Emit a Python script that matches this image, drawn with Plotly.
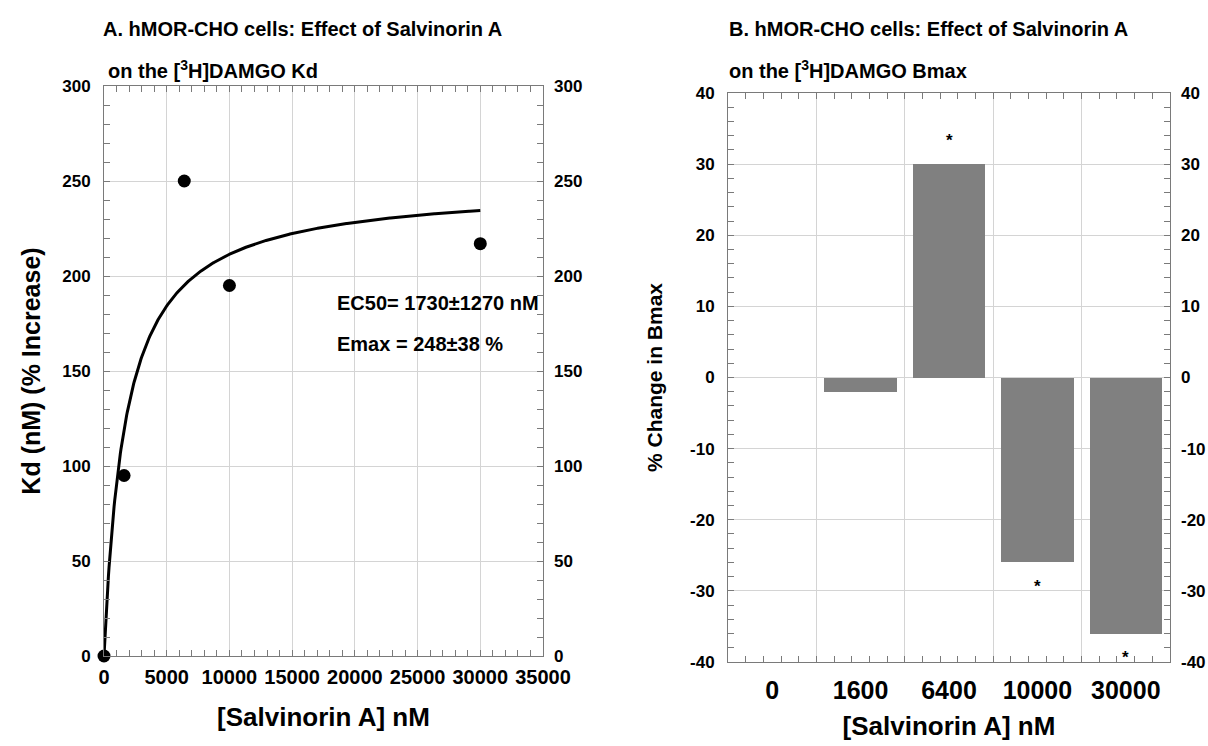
import numpy as np
import plotly.graph_objects as go

W, H = 1208, 746

# ---------------- data ----------------
# Panel A: Kd (% increase) vs [Salvinorin A]
conc_a = [0, 1600, 6400, 10000, 30000]
kd_increase = [0, 95, 250, 195, 217]
ec50 = 1730      # nM (fitted)
ec50_err = 1270
emax = 248       # % (fitted)
emax_err = 38
fit_x = np.linspace(0, 30000, 600)
fit_y = emax * fit_x / (ec50 + fit_x)   # fitted hyperbola drawn in the figure

# Panel B: % change in Bmax
conc_b_labels = ["0", "1600", "6400", "10000", "30000"]
bmax_change = [0, -2, 30, -26, -36]
significant = [False, False, True, True, True]
b_ytick_vals = [-40, -30, -20, -10, 0, 10, 20, 30, 40]
b_ytick_text = ["-40", "-30", "-20", "-10", "0", "10", "20", "30", "40"]

# ---------------- style ----------------
FONT = "Liberation Sans, Arial, Helvetica, sans-serif"
GRID = "#d4d4d4"
LINE = "#7a7a7a"
BAR = "#808080"


def dx(p):
    return p / W


def dy(p):
    return 1 - p / H


A_X = [dx(104), dx(543)]
A_Y = [dy(656), dy(86)]
B_X = [dx(728), dx(1170)]
B_Y = [dy(662), dy(93)]

fig = go.Figure()

# Panel A traces
fig.add_trace(go.Scatter(x=fit_x, y=fit_y, mode="lines",
                         line=dict(color="black", width=3),
                         xaxis="x", yaxis="y", showlegend=False, hoverinfo="skip"))
fig.add_trace(go.Scatter(x=conc_a, y=kd_increase, mode="markers",
                         marker=dict(color="black", size=13),
                         xaxis="x", yaxis="y", showlegend=False, cliponaxis=False))

# Panel B traces
idx = list(range(len(conc_b_labels)))
fig.add_trace(go.Bar(x=idx, y=bmax_change, marker=dict(color=BAR, line=dict(width=0)),
                     width=0.82, xaxis="x2", yaxis="y2", showlegend=False))
# helper traces so overlay axes exist
fig.add_trace(go.Scatter(x=[None], y=[None], xaxis="x3", yaxis="y2", showlegend=False))
fig.add_trace(go.Scatter(x=[None], y=[None], xaxis="x", yaxis="y3", showlegend=False))
fig.add_trace(go.Scatter(x=[None], y=[None], xaxis="x2", yaxis="y4", showlegend=False))

tickfont_y = dict(family=FONT, size=17, color="black", weight="bold")


def minor(dtick, tick0=0):
    return dict(dtick=dtick, tick0=tick0, ticks="inside", ticklen=6,
                tickcolor=LINE, tickwidth=1, showgrid=False)


fig.update_layout(
    width=W, height=H,
    margin=dict(l=0, r=0, t=0, b=0, autoexpand=False),
    paper_bgcolor="white", plot_bgcolor="white",
    font=dict(family=FONT, color="black"),
    bargap=0,
    # ---- Panel A axes ----
    xaxis=dict(domain=A_X, anchor="y", range=[0, 35000], dtick=5000, tick0=0,
               tickformat="d", automargin=False,
               showgrid=True, gridcolor=GRID, gridwidth=1, zeroline=False,
               showline=True, linecolor=LINE, linewidth=1, mirror="ticks",
               ticks="inside", ticklen=6, tickcolor=LINE,
               minor=minor(1000),
               tickfont=dict(family=FONT, size=20, color="black", weight="bold"),
               ticklabelstandoff=3,
               title=dict(text="[Salvinorin A] nM", standoff=20,
                          font=dict(family=FONT, size=26, color="black", weight="bold"))),
    yaxis=dict(domain=A_Y, anchor="x", range=[0, 300], dtick=50, tick0=0,
               automargin=False,
               showgrid=True, gridcolor=GRID, gridwidth=1, zeroline=False,
               showline=True, linecolor=LINE, linewidth=1, mirror="ticks",
               ticks="inside", ticklen=6, tickcolor=LINE,
               minor=minor(10),
               tickfont=tickfont_y, ticklabelstandoff=9,
               title=dict(text="Kd (nM) (% Increase)", standoff=14,
                          font=dict(family=FONT, size=25, color="black", weight="bold"))),
    yaxis3=dict(overlaying="y", side="right", anchor="x", range=[0, 300], dtick=50, tick0=0,
                automargin=False,
                showgrid=False, zeroline=False, showline=False,
                ticks="inside", ticklen=6, tickcolor=LINE,
                minor=minor(10),
                tickfont=tickfont_y, ticklabelstandoff=10),
    # ---- Panel B axes ----
    xaxis2=dict(domain=B_X, anchor="y2", range=[-0.5, 4.5], automargin=False,
                tickvals=idx, ticktext=conc_b_labels,
                showgrid=False, zeroline=False, showline=False, ticks="",
                tickfont=dict(family=FONT, size=25, color="black", weight="bold"),
                ticklabelstandoff=11,
                title=dict(text="[Salvinorin A] nM", standoff=13,
                           font=dict(family=FONT, size=26, color="black", weight="bold"))),
    xaxis3=dict(overlaying="x2", anchor="y2", range=[-0.5, 4.5], tick0=0.5, dtick=1,
                automargin=False,
                showgrid=True, gridcolor=GRID, gridwidth=1, zeroline=False,
                showline=True, linecolor=LINE, linewidth=1, mirror="ticks",
                showticklabels=False, ticks="inside", ticklen=6, tickcolor=LINE,
                minor=minor(0.2, 0.5)),
    yaxis2=dict(domain=B_Y, anchor="x2", range=[-40, 40], automargin=False,
                tickvals=b_ytick_vals, ticktext=b_ytick_text,
                showgrid=True, gridcolor=GRID, gridwidth=1, zeroline=True,
                zerolinecolor=GRID, zerolinewidth=1,
                showline=True, linecolor=LINE, linewidth=1, mirror="ticks",
                ticks="inside", ticklen=6, tickcolor=LINE,
                minor=minor(2),
                tickfont=tickfont_y, ticklabelstandoff=9,
                title=dict(text="% Change in Bmax", standoff=21,
                           font=dict(family=FONT, size=21, color="black", weight="bold"))),
    yaxis4=dict(overlaying="y2", side="right", anchor="x2", range=[-40, 40],
                automargin=False,
                tickvals=b_ytick_vals, ticktext=b_ytick_text,
                showgrid=False, zeroline=False, showline=False,
                ticks="inside", ticklen=6, tickcolor=LINE,
                minor=minor(2),
                tickfont=tickfont_y, ticklabelstandoff=10),
)

ann = []
title_font = dict(family=FONT, size=20, color="black", weight="bold")
ann.append(dict(text="A. hMOR-CHO cells: Effect of Salvinorin A", x=dx(101), y=dy(29),
                xref="paper", yref="paper", xanchor="left", yanchor="middle",
                showarrow=False, font=title_font))
ann.append(dict(text="on the [<sup>3</sup>H]DAMGO Kd", x=dx(106), y=dy(84),
                xref="paper", yref="paper", xanchor="left", yanchor="bottom",
                showarrow=False, font=title_font))
ann.append(dict(text="B. hMOR-CHO cells: Effect of Salvinorin A", x=dx(727), y=dy(29),
                xref="paper", yref="paper", xanchor="left", yanchor="middle",
                showarrow=False, font=title_font))
ann.append(dict(text="on the [<sup>3</sup>H]DAMGO Bmax", x=dx(727), y=dy(84),
                xref="paper", yref="paper", xanchor="left", yanchor="bottom",
                showarrow=False, font=title_font))

fit_font = dict(family=FONT, size=20, color="black", weight="bold")
ann.append(dict(text=f"EC50= {ec50}\u00b1{ec50_err} nM", x=18400, y=186,
                xref="x", yref="y", xanchor="left", yanchor="middle",
                showarrow=False, font=fit_font))
ann.append(dict(text=f"Emax = {emax}\u00b1{emax_err} %", x=18400, y=164,
                xref="x", yref="y", xanchor="left", yanchor="middle",
                showarrow=False, font=fit_font))

for i, (v, s) in enumerate(zip(bmax_change, significant)):
    if s:
        ann.append(dict(text="*", x=i, y=v, xref="x2", yref="y2",
                        xanchor="center", yanchor="middle",
                        yshift=24 if v > 0 else -24,
                        showarrow=False,
                        font=dict(family=FONT, size=17, color="black", weight="bold")))

fig.update_layout(annotations=ann)

fig.write_html("out.html")
